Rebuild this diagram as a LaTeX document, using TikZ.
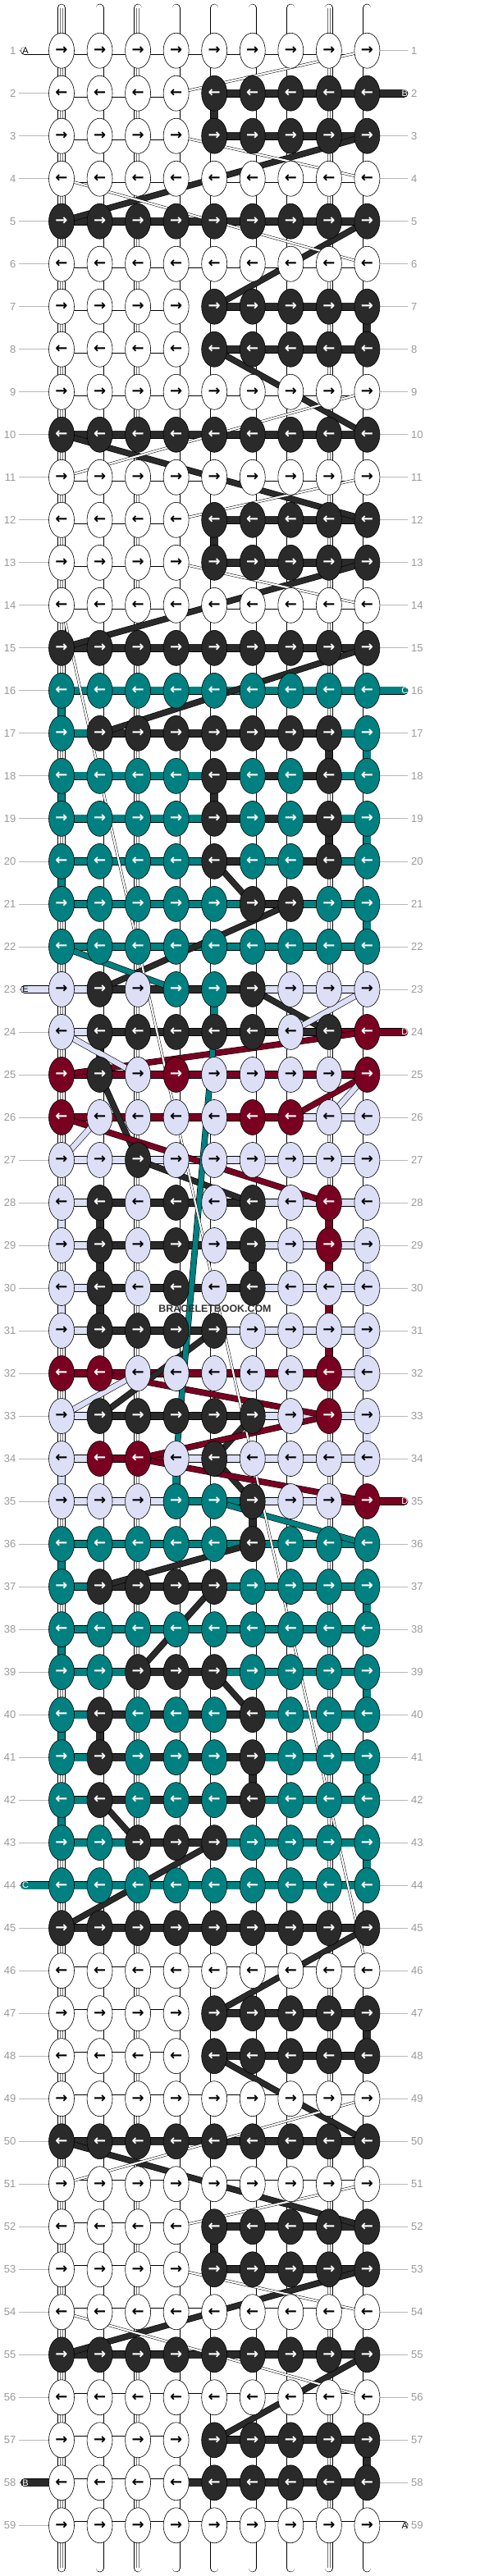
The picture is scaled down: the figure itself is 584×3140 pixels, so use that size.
\documentclass[tikz,border=0pt]{standalone}
\usepackage{fontspec}
\setmainfont{Liberation Sans}
\newfontfamily\arrowfont{DejaVu Sans}
\usetikzlibrary{shapes.geometric}

\definecolor{cW}{HTML}{FFFFFF}
\definecolor{cK}{HTML}{2A2A2A}
\definecolor{cT}{HTML}{008080}
\definecolor{cL}{HTML}{DCDFF6}
\definecolor{cR}{HTML}{7A0022}
\colorlet{aW}{black}
\colorlet{aK}{white}
\colorlet{aT}{white}
\colorlet{aL}{black}
\colorlet{aR}{white}

\pgfdeclarelayer{back}
\pgfsetlayers{back,main}

\tikzset{
  knot/.style={ellipse, draw=black, line width=.6pt, minimum width=31pt, minimum height=43pt,
    inner sep=0pt, font=\arrowfont\bfseries\fontsize{18}{18}\selectfont},
  strand/.style={draw=black, line width=.6pt, double distance=8.8pt},
  pair/.style={draw=black!55, line width=.4pt, double=white, double distance=2.6pt},
  carry/.style={draw=black, line width=.6pt, double distance=6.4pt},
  thread/.style={draw=black, line width=.5pt, double=white, double distance=2.2pt},
  rowno/.style={text=black!40, inner sep=0pt, font=\fontsize{13}{13}\selectfont},
  rowline/.style={draw=black!28, line width=.8pt},
  tabtxt/.style={inner sep=0pt, font=\fontsize{11}{11}\selectfont},
  lW/.style={double=cW}, lK/.style={double=cK}, lT/.style={double=cT},
  lL/.style={double=cL}, lR/.style={double=cR}, lX/.style={draw=none},
}

\begin{document}
\begin{tikzpicture}[x=1pt, y=-1pt]
\useasboundingbox (0,0) rectangle (584,3140);

% knots, row by row: knot colours / link colours
\foreach \r/\kn/\ln in {
  1/{W,W,W,W,W,W,W,W,W}/{W,W,W,W,W,W,W,W},
  2/{W,W,W,W,K,K,K,K,K}/{W,W,W,X,K,K,K,K},
  3/{W,W,W,W,K,K,K,K,K}/{W,W,W,X,K,K,K,K},
  4/{W,W,W,W,W,W,W,W,W}/{W,W,W,W,W,W,W,W},
  5/{K,K,K,K,K,K,K,K,K}/{K,K,K,K,K,K,K,K},
  6/{W,W,W,W,W,W,W,W,W}/{W,W,W,W,W,W,W,W},
  7/{W,W,W,W,K,K,K,K,K}/{W,W,W,X,K,K,K,K},
  8/{W,W,W,W,K,K,K,K,K}/{W,W,W,X,K,K,K,K},
  9/{W,W,W,W,W,W,W,W,W}/{W,W,W,W,W,W,W,W},
  10/{K,K,K,K,K,K,K,K,K}/{K,K,K,K,K,K,K,K},
  11/{W,W,W,W,W,W,W,W,W}/{W,W,W,W,W,W,W,W},
  12/{W,W,W,W,K,K,K,K,K}/{W,W,W,X,K,K,K,K},
  13/{W,W,W,W,K,K,K,K,K}/{W,W,W,X,K,K,K,K},
  14/{W,W,W,W,W,W,W,W,W}/{W,W,W,W,W,W,W,W},
  15/{K,K,K,K,K,K,K,K,K}/{K,K,K,K,K,K,K,K},
  16/{T,T,T,T,T,T,T,T,T}/{T,T,T,T,T,T,T,T},
  17/{T,K,K,K,K,K,K,K,T}/{T,K,K,K,K,K,K,T},
  18/{T,T,T,T,K,T,T,K,T}/{T,T,T,T,K,K,K,T},
  19/{T,T,T,T,K,T,T,K,T}/{T,T,T,T,K,K,K,T},
  20/{T,T,T,T,K,T,T,K,T}/{T,T,T,T,K,T,K,T},
  21/{T,T,T,T,T,K,K,T,T}/{T,T,T,T,T,K,T,T},
  22/{T,T,T,T,T,T,T,T,T}/{T,T,T,T,T,T,T,T},
  23/{L,K,L,T,T,K,L,L,L}/{L,K,K,K,K,L,L,L},
  24/{L,K,K,K,K,K,L,K,R}/{L,K,K,K,K,K,K,R},
  25/{R,K,L,R,L,L,L,L,R}/{R,R,R,R,R,R,R,R},
  26/{R,L,L,L,L,R,R,L,L}/{R,R,R,R,R,R,L,L},
  27/{L,L,K,L,L,L,L,L,L}/{L,L,L,L,L,L,L,L},
  28/{L,K,L,K,L,K,L,R,L}/{L,K,K,K,K,L,L,L},
  29/{L,K,L,K,L,K,L,R,L}/{L,K,K,K,K,L,L,L},
  30/{L,K,L,K,L,K,L,L,L}/{L,K,K,K,K,L,L,L},
  31/{L,K,K,K,K,L,L,L,L}/{L,K,K,K,L,L,L,L},
  32/{R,R,L,L,L,L,L,R,L}/{R,R,R,R,R,R,R,L},
  33/{L,K,K,K,K,K,L,R,L}/{L,K,K,K,K,L,L,L},
  34/{L,R,R,L,K,L,L,L,L}/{L,R,R,L,L,L,L,L},
  35/{L,L,L,T,T,K,L,L,R}/{L,L,L,T,T,L,L,R},
  36/{T,T,T,T,T,K,T,T,T}/{T,T,T,T,T,T,T,T},
  37/{T,K,K,K,K,T,T,T,T}/{T,K,K,K,T,T,T,T},
  38/{T,T,T,T,T,T,T,T,T}/{T,T,T,T,T,T,T,T},
  39/{T,T,K,K,K,T,T,T,T}/{T,T,K,K,T,T,T,T},
  40/{T,K,T,T,T,K,T,T,T}/{T,K,K,K,K,T,T,T},
  41/{T,K,T,T,T,K,T,T,T}/{T,K,K,K,K,T,T,T},
  42/{T,K,T,T,T,K,T,T,T}/{T,K,K,K,K,T,T,T},
  43/{T,T,K,K,K,T,T,T,T}/{T,T,K,K,T,T,T,T},
  44/{T,T,T,T,T,T,T,T,T}/{T,T,T,T,T,T,T,T},
  45/{K,K,K,K,K,K,K,K,K}/{K,K,K,K,K,K,K,K},
  46/{W,W,W,W,W,W,W,W,W}/{W,W,W,W,W,W,W,W},
  47/{W,W,W,W,K,K,K,K,K}/{W,W,W,X,K,K,K,K},
  48/{W,W,W,W,K,K,K,K,K}/{W,W,W,X,K,K,K,K},
  49/{W,W,W,W,W,W,W,W,W}/{W,W,W,W,W,W,W,W},
  50/{K,K,K,K,K,K,K,K,K}/{K,K,K,K,K,K,K,K},
  51/{W,W,W,W,W,W,W,W,W}/{W,W,W,W,W,W,W,W},
  52/{W,W,W,W,K,K,K,K,K}/{W,W,W,X,K,K,K,K},
  53/{W,W,W,W,K,K,K,K,K}/{W,W,W,X,K,K,K,K},
  54/{W,W,W,W,W,W,W,W,W}/{W,W,W,W,W,W,W,W},
  55/{K,K,K,K,K,K,K,K,K}/{K,K,K,K,K,K,K,K},
  56/{W,W,W,W,W,W,W,W,W}/{W,W,W,W,W,W,W,W},
  57/{W,W,W,W,K,K,K,K,K}/{W,W,W,X,K,K,K,K},
  58/{W,W,W,W,K,K,K,K,K}/{W,W,W,K,K,K,K,K},
  59/{W,W,W,W,W,W,W,W,W}/{W,W,W,W,W,W,W,W}} {
  \pgfmathsetmacro\yy{61.7+(\r-1)*52.01}
  \foreach \k [count=\c] in \kn {
    \pgfmathsetmacro\xx{75+(\c-1)*46.55}
    \node[knot, fill=c\k, text=a\k] (n-\r-\c) at (\xx,\yy) {\ifodd\r\relax →\else ←\fi};
  }
  \begin{pgfonlayer}{back}
    \foreach \l [count=\c] in \ln {
      \pgfmathtruncatemacro\d{\c+1}
      \draw[strand, l\l] (n-\r-\c.center) -- (n-\r-\d.center);
    }
    \node[rowno, anchor=east] (ll-\r) at (19.5,\yy) {\r};
    \node[rowno, anchor=west] (rl-\r) at (501,\yy) {\r};
    \draw[rowline] ([xshift=3.5pt]ll-\r.east) -- (n-\r-1.west);
    \draw[rowline] (n-\r-9.east) -- ([xshift=-4pt]rl-\r.west);
  \end{pgfonlayer}
}

\begin{pgfonlayer}{back}
  % base strands
  \foreach \r in {1,...,58} {
    \pgfmathtruncatemacro\s{\r+1}
    \foreach \c in {1,...,9} {
      \draw[strand, double=white] (n-\r-\c.center) -- (n-\s-\c.center);
      \draw[pair] (n-\r-\c.center) -- (n-\s-\c.center);
    }
  }
  \foreach \c in {1,...,9} {
    \coordinate (top-\c) at ([yshift=52pt]n-1-\c.center);
    \coordinate (bot-\c) at ([yshift=-52pt]n-59-\c.center);
    \draw[strand, double=white, line cap=round] (n-1-\c.center) -- (top-\c);
    \draw[pair] (n-1-\c.center) -- (top-\c);
    \draw[strand, double=white, line cap=round] (n-59-\c.center) -- (bot-\c);
    \draw[pair] (n-59-\c.center) -- (bot-\c);
  }
  % turns
  \foreach \cc/\ra/\ca in {K/2/5, K/7/9, K/12/5, T/16/1, T/17/9, K/17/8, T/18/1, K/18/5,
      K/19/8, T/19/9, T/20/1, T/21/9, T/23/5, K/24/2, L/28/1, K/28/2, R/28/8, K/29/2,
      K/29/6, R/29/8, L/29/9, L/30/1, K/30/2, R/30/8, R/31/8, L/31/9, L/33/9, L/34/1,
      T/34/4, K/35/6, T/36/1, T/37/9, T/38/1, T/39/9, T/40/1, K/40/2, K/41/6, T/41/9,
      T/42/1, T/43/9, K/47/9, K/52/5, K/57/9} {
    \pgfmathtruncatemacro\rb{\ra+1}
    \draw[strand, double=c\cc] (n-\ra-\ca.center) -- (n-\rb-\ca.center);
  }
  % carried strands
  \foreach \cc/\ra/\ca/\rb/\cb in {K/3/9/5/1, K/5/9/7/5, K/8/5/10/9, K/10/1/12/9,
      K/13/9/15/1, K/15/9/17/2, K/20/5/21/6, K/21/7/23/2, K/23/6/24/8, K/25/2/27/3,
      K/27/3/28/6, K/31/5/33/2, K/33/6/34/5, K/34/5/35/6, K/36/6/37/2, K/37/5/39/3,
      K/39/5/40/6, K/42/2/43/3, K/43/5/45/1, K/45/9/47/5, K/48/5/50/9, K/50/1/52/9,
      K/53/9/55/1, K/55/9/57/5, R/24/9/25/1, R/25/9/26/7, R/26/1/28/8, R/32/2/33/8,
      R/33/8/34/3, R/34/3/35/9, T/22/1/23/4, T/24/5/34/4, T/35/5/36/9, L/23/9/24/7,
      L/24/1/25/3, L/25/9/26/8, L/26/2/27/1, L/32/3/33/1} {
    \draw[carry, double=c\cc] (n-\ra-\ca.center) -- (n-\rb-\cb.center);
  }
  \foreach \ra/\ca/\rb/\cb in {1/9/2/4, 3/4/4/9, 4/1/6/9, 9/9/11/1, 11/9/12/4, 13/4/14/9,
      14/1/46/9, 49/9/51/1, 51/9/52/4, 53/4/54/9, 54/1/56/9} {
    \draw[thread] (n-\ra-\ca.center) -- (n-\rb-\cb.center);
  }
  % loose ends
  \foreach \nm/\cc/\tc/\r/\c/\dx in {A/W/black/1/1/-45, B/K/white/2/9/45, C/T/white/16/9/45,
      E/L/black/23/1/-45, D/R/white/24/9/45, D/R/white/35/9/45, C/T/white/44/1/-45,
      B/K/white/58/1/-45, A/W/black/59/9/45} {
    \coordinate (tab-\r) at ([xshift=\dx pt]n-\r-\c.center);
    \draw[strand, double=c\cc, line cap=round] (n-\r-\c.center) -- (tab-\r);
    \node[tabtxt, text=\tc] (tl-\r) at ([xshift=1pt]tab-\r) {\nm};
  }
\end{pgfonlayer}

\node[font=\bfseries\fontsize{12.4}{12.4}\selectfont, text=black!80] (mark) at (262,1595.5) {BRACELETBOOK.COM};
\end{tikzpicture}
\end{document}
